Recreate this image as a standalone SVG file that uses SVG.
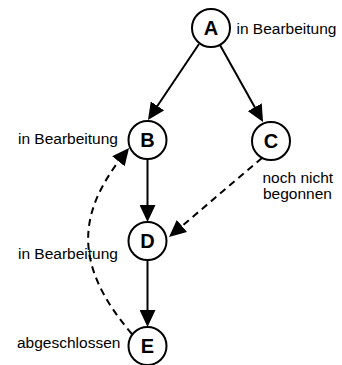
<svg xmlns="http://www.w3.org/2000/svg" width="342" height="365" viewBox="0 0 342 365">
  <style>
    .node circle { fill: #fff; stroke: #000; stroke-width: 2; }
    .node text { font-family: "Liberation Sans", Arial, sans-serif; font-size: 20px; font-weight: bold; text-anchor: middle; fill: #000; }
    .label { font-family: "Liberation Sans", Arial, sans-serif; font-size: 15.5px; fill: #000; }
    .edge { fill: none; stroke: #000; stroke-width: 2; }
    .dashed { stroke-dasharray: 7 5; }
  </style>
  <defs>
    <marker id="arrow" markerUnits="userSpaceOnUse" markerWidth="17" markerHeight="16" refX="11" refY="8" orient="auto">
      <path d="M0,0 L17,8 L0,16 z" fill="#000"/>
    </marker>
  </defs>

  <rect width="342" height="365" fill="#fff"/>

  <g id="connectors">
    <path class="edge" d="M199,44 L151.3,115" marker-end="url(#arrow)"/>
    <path class="edge" d="M220,45 L260.1,116.8" marker-end="url(#arrow)"/>
    <path class="edge" d="M147.5,159 L147.5,216" marker-end="url(#arrow)"/>
    <path class="edge" d="M147.5,260 L147.5,321" marker-end="url(#arrow)"/>
    <path class="edge dashed" d="M262,158 L173.6,233.1" marker-end="url(#arrow)"/>
    <path class="edge dashed" d="M132,334 C70,262 79.3,209.75 125.3,152.75" marker-end="url(#arrow)"/>
  </g>

  <g id="node-A" class="node">
    <circle cx="211" cy="28" r="19"/>
    <text x="211" y="35">A</text>
  </g>
  <g id="node-B" class="node">
    <circle cx="147.5" cy="140" r="19"/>
    <text x="147.5" y="147">B</text>
  </g>
  <g id="node-C" class="node">
    <circle cx="271" cy="141" r="19"/>
    <text x="271" y="148">C</text>
  </g>
  <g id="node-D" class="node">
    <circle cx="147.5" cy="241" r="19"/>
    <text x="147.5" y="248">D</text>
  </g>
  <g id="node-E" class="node">
    <circle cx="147.5" cy="346" r="19"/>
    <text x="147.5" y="353">E</text>
  </g>

  <g id="labels">
    <text class="label" x="236.5" y="33.5">in Bearbeitung</text>
    <text class="label" x="18" y="143.5">in Bearbeitung</text>
    <text class="label" x="262.5" y="183">noch nicht</text>
    <text class="label" x="263" y="198.5">begonnen</text>
    <text class="label" x="18" y="258.5">in Bearbeitung</text>
    <text class="label" x="17" y="347.5">abgeschlossen</text>
  </g>
</svg>
